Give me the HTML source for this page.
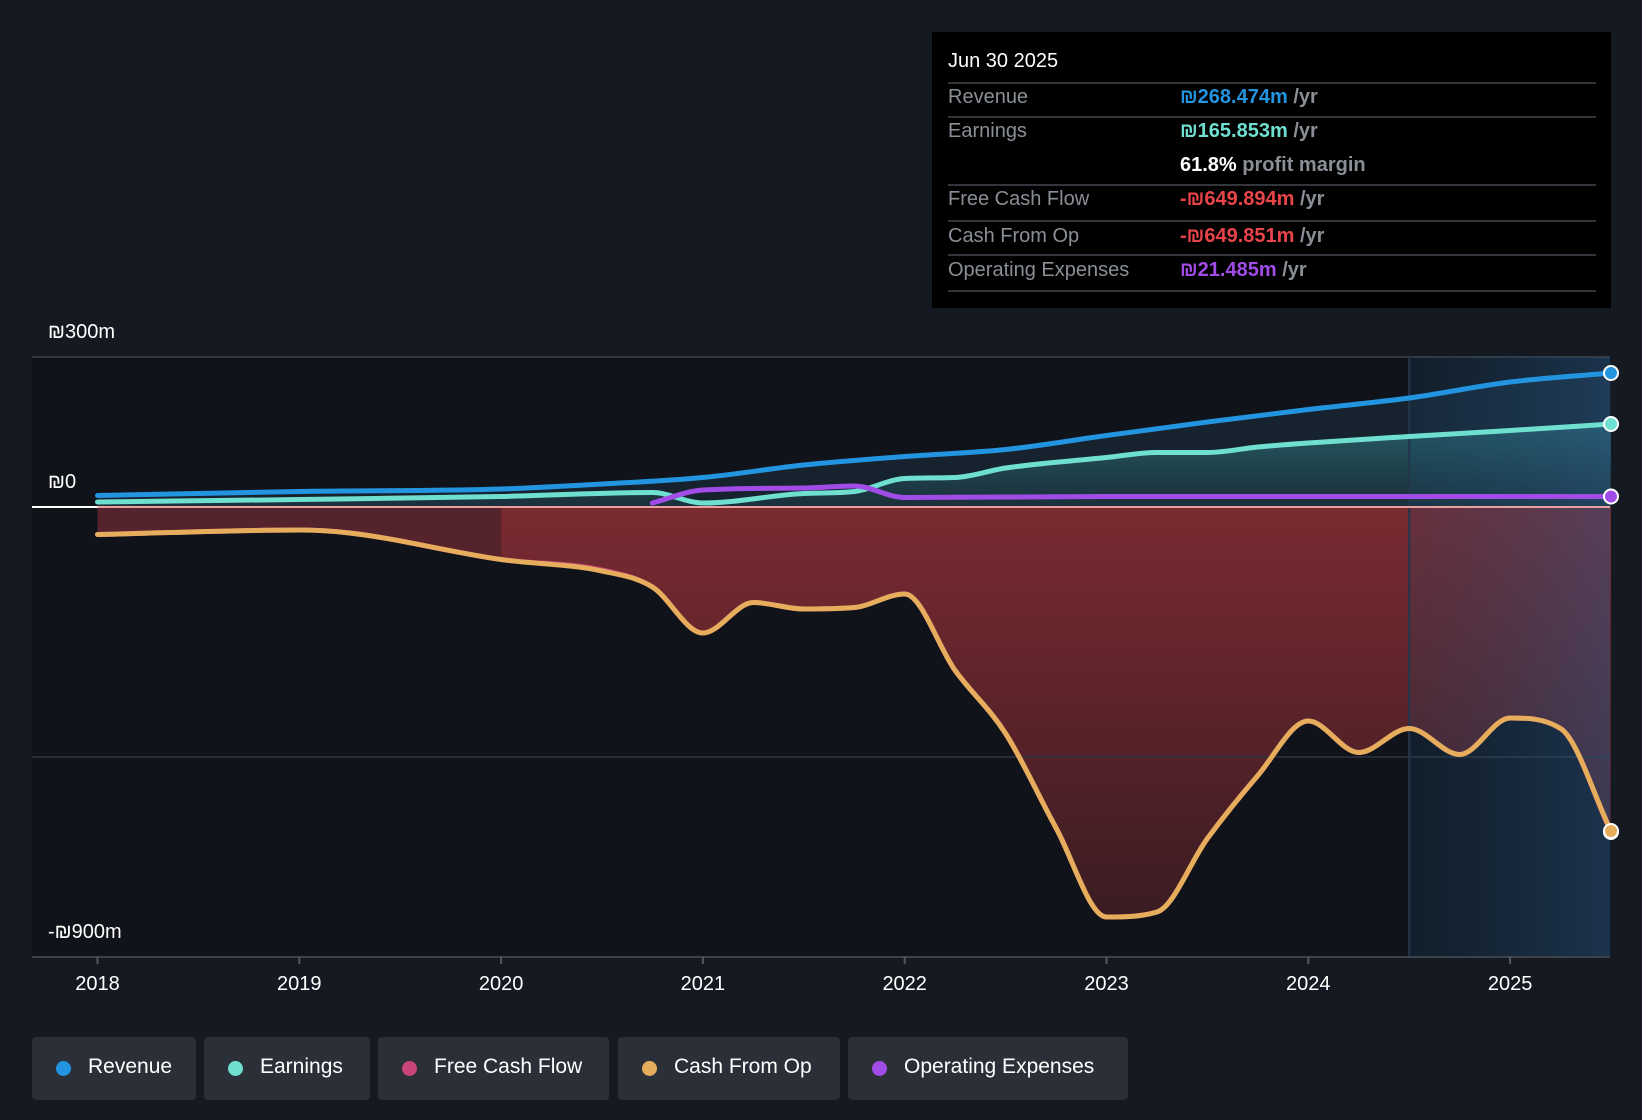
<!DOCTYPE html>
<html><head><meta charset="utf-8"><style>
html,body{margin:0;padding:0;background:#151a22;}
body{width:1642px;height:1120px;position:relative;overflow:hidden;font-family:"Liberation Sans",sans-serif;}
svg{position:absolute;left:0;top:0;}
.tip{position:absolute;left:932px;top:32px;width:679px;height:276px;background:#000;}
.row{position:absolute;left:16px;width:648px;font-size:20px;color:#8a8f96;}
.sep{position:absolute;left:16px;width:648px;height:2px;background:#33373d;}
.val{position:absolute;left:232px;white-space:nowrap;font-weight:bold;}
.u{color:#8a8f96;font-weight:bold;}
.legend{position:absolute;top:1037px;height:63px;background:#2a2f38;border-radius:4px;color:#fff;font-size:21px;line-height:60px;}
.legend span.dot{position:absolute;top:24px;left:24px;width:15px;height:15px;border-radius:50%;}
.legend span.t{position:absolute;left:56px;}
.axl{position:absolute;color:#fff;font-size:20px;}
</style></head><body>
<svg id="chart" width="1642" height="1120"></svg>
<div class="axl" style="left:48px;top:321px">₪300m</div>
<div class="axl" style="left:48px;top:471px">₪0</div>
<div class="axl" style="left:48px;top:921px">-₪900m</div>

<div class="tip">
<div class="row" style="top:18px;color:#fff">Jun 30 2025</div>
<div class="sep" style="top:50px"></div>
<div class="row" style="top:54px">Revenue<span class="val" style="color:#2394e0">₪268.474m <span class="u">/yr</span></span></div>
<div class="sep" style="top:84px"></div>
<div class="row" style="top:88px">Earnings<span class="val" style="color:#6fe0d0">₪165.853m <span class="u">/yr</span></span></div>
<div class="row" style="top:122px"><span class="val" style="color:#fff">61.8% <span class="u">profit margin</span></span></div>
<div class="sep" style="top:152px"></div>
<div class="row" style="top:156px">Free Cash Flow<span class="val" style="color:#e8444a">-₪649.894m <span class="u">/yr</span></span></div>
<div class="sep" style="top:188px"></div>
<div class="row" style="top:193px">Cash From Op<span class="val" style="color:#e8444a">-₪649.851m <span class="u">/yr</span></span></div>
<div class="sep" style="top:222px"></div>
<div class="row" style="top:227px">Operating Expenses<span class="val" style="color:#a24ce8">₪21.485m <span class="u">/yr</span></span></div>
<div class="sep" style="top:258px"></div>
</div>

<div class="legend" style="left:32px;width:164px"><span class="dot" style="background:#2394e0"></span><span class="t">Revenue</span></div>
<div class="legend" style="left:204px;width:166px"><span class="dot" style="background:#6fe0d0"></span><span class="t">Earnings</span></div>
<div class="legend" style="left:378px;width:231px"><span class="dot" style="background:#c8447a"></span><span class="t">Free Cash Flow</span></div>
<div class="legend" style="left:618px;width:222px"><span class="dot" style="background:#e6ad5c"></span><span class="t">Cash From Op</span></div>
<div class="legend" style="left:848px;width:280px"><span class="dot" style="background:#a24ce8"></span><span class="t">Operating Expenses</span></div>

<script>
const revT=[2018,2019,2020,2020.5,2021,2021.5,2022,2022.5,2023,2023.5,2024,2024.5,2025,2025.5];
const revV=[23,31,36,46,59,84,101,115,143,170,195,218,250,268];
const earnT=[2018,2019,2020,2020.75,2021,2021.5,2021.75,2022,2022.25,2022.5,2023,2023.25,2023.5,2023.75,2024,2024.5,2025,2025.5];
const earnV=[10,15,21,29,8,27,31,57,59,78,99,109,109,120,128,141,153,166];
const opexT=[2020.75,2021,2021.5,2021.75,2022,2023,2024,2025.5];
const opexV=[8,34,38,42,19,21,21,21];
const cfoT=[2018,2019,2019.25,2020,2020.5,2020.75,2021,2021.25,2021.5,2021.75,2022,2022.25,2022.5,2022.75,2023,2023.25,2023.5,2023.75,2024,2024.25,2024.5,2024.75,2025,2025.25,2025.5];
const cfoV=[-55,-46,-52,-105,-128,-160,-252,-191,-204,-201,-174,-327,-453,-642,-820,-810,-663,-537,-428,-491,-443,-495,-422,-443,-648];
const fcfV=[-55,-46,-52,-105,-126,-160,-252,-191,-204,-201,-174,-327,-453,-642,-820,-810,-663,-537,-428,-491,-443,-495,-422,-443,-650];
const yTicks=[2018,2019,2020,2021,2022,2023,2024,2025];
const gridVals=[300,-500];

const X=t=>97.5+(t-2018)*201.8;
const Y=v=>507-v*0.5;
const NS='http://www.w3.org/2000/svg';
const svg=document.getElementById('chart');
function el(tag,attrs,parent){const e=document.createElementNS(NS,tag);for(const k in attrs)e.setAttribute(k,attrs[k]);(parent||svg).appendChild(e);return e;}
// monotone cubic (Fritsch-Carlson)
function pathD(T,V){
  const p=T.map((t,i)=>[X(t),Y(V[i])]);
  const n=p.length,d=[],m=new Array(n);
  for(let i=0;i<n-1;i++)d.push((p[i+1][1]-p[i][1])/(p[i+1][0]-p[i][0]));
  m[0]=d[0];m[n-1]=d[n-2];
  for(let i=1;i<n-1;i++)m[i]=(d[i-1]*d[i]<=0)?0:(d[i-1]+d[i])/2;
  for(let i=0;i<n-1;i++){if(d[i]===0){m[i]=0;m[i+1]=0;continue;}
    const a=m[i]/d[i],b=m[i+1]/d[i],s=a*a+b*b;if(s>9){const t=3/Math.sqrt(s);m[i]=t*a*d[i];m[i+1]=t*b*d[i];}}
  let s='M'+p[0][0]+','+p[0][1];
  for(let i=0;i<n-1;i++){const h=(p[i+1][0]-p[i][0])/3;
    s+=' C'+(p[i][0]+h)+','+(p[i][1]+m[i]*h)+' '+(p[i+1][0]-h)+','+(p[i+1][1]-m[i+1]*h)+' '+p[i+1][0]+','+p[i+1][1];}
  return s;
}
const defs=el('defs',{});
defs.innerHTML='<linearGradient id="gRed" x1="0" y1="0" x2="0" y2="1"><stop offset="0" stop-color="#7b2a31"/><stop offset="1" stop-color="#3a1c22"/></linearGradient>'+
'<linearGradient id="gTeal" x1="0" y1="0" x2="0" y2="1"><stop offset="0" stop-color="#2a6a72" stop-opacity="0.8"/><stop offset="1" stop-color="#1e3a44" stop-opacity="0.6"/></linearGradient>'+
'<linearGradient id="gFc" x1="0" y1="0" x2="1" y2="0"><stop offset="0" stop-color="#1a4a6e" stop-opacity="0.2"/><stop offset="1" stop-color="#2a5a8a" stop-opacity="0.45"/></linearGradient>'+
'<clipPath id="pre"><rect x="0" y="0" width="'+X(2020)+'" height="1120"/></clipPath>'+
'<clipPath id="post"><rect x="'+X(2020)+'" y="0" width="2000" height="1120"/></clipPath>';

const bg=el('rect',{x:32,y:357,width:1578,height:600,fill:'#10131a'});


const endX=X(cfoT[cfoT.length-1]);
const fcfD=pathD(cfoT,fcfV);
const f1=el('path',{d:fcfD+' L'+endX+','+Y(0)+' L'+X(2018)+','+Y(0)+'Z',fill:'#54232b','clip-path':'url(#pre)'});

const f2=el('path',{d:fcfD+' L'+endX+','+Y(0)+' L'+X(2018)+','+Y(0)+'Z',fill:'url(#gRed)','clip-path':'url(#post)'});

const ea=el('path',{d:pathD(revT,revV)+' L'+X(2025.5)+','+Y(0)+' L'+X(2018)+','+Y(0)+'Z',fill:'#1a2a38',opacity:0.7});

const eb=el('path',{d:pathD(earnT,earnV)+' L'+X(2025.5)+','+Y(0)+' L'+X(2018)+','+Y(0)+'Z',fill:'url(#gTeal)'});


gridVals.forEach(v=>{
  const g=el('line',{x1:32,y1:Y(v),x2:1610,y2:Y(v),stroke:v>0?'#3e434b':'#30353d','stroke-width':1.5});
  
});

const fc=el('rect',{x:X(2024.5),y:357,width:1610-X(2024.5),height:600,fill:'url(#gFc)'});

el('line',{x1:X(2024.5),y1:357,x2:X(2024.5),y2:957,stroke:'#23364a','stroke-width':2});

el('line',{x1:32,y1:957,x2:1610,y2:957,stroke:'#3e434b','stroke-width':2});
el('line',{x1:32,y1:Y(0),x2:X(2018),y2:Y(0),stroke:'#fff','stroke-width':2});
el('line',{x1:X(2018),y1:Y(0),x2:1610,y2:Y(0),stroke:'#e8a0a0','stroke-width':2});

yTicks.forEach(t=>{
  el('line',{x1:X(t),y1:957,x2:X(t),y2:964,stroke:'#555a62','stroke-width':2});
  const tx=el('text',{x:X(t),y:990,fill:'#fff','font-size':20,'text-anchor':'middle','font-family':'Liberation Sans, sans-serif'});
  tx.textContent=t;
  
  
});

function line(T,V,color,name){
  const p=el('path',{d:pathD(T,V),fill:'none',stroke:color,'stroke-width':5,'stroke-linecap':'round'});
  
  
  const c=el('circle',{cx:X(T[T.length-1]),cy:Y(V[V.length-1]),r:7,fill:color,stroke:'#fff','stroke-width':2});
  
  
}
line(cfoT,fcfV,'#c8447a','free-cash-flow');
line(cfoT,cfoV,'#e6ad5c','cash-from-op');
line(revT,revV,'#2394e0','revenue');
line(earnT,earnV,'#6fe0d0','earnings');
line(opexT,opexV,'#a24ce8','operating-expenses');
</script>
</body></html>
